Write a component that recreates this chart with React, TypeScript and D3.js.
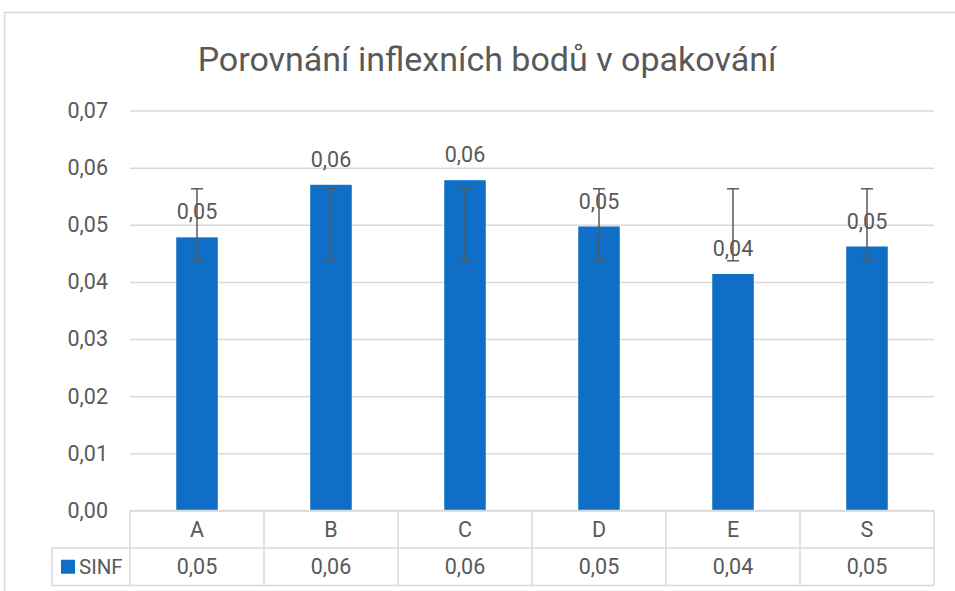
import React, { useEffect, useRef } from 'react';
import * as d3 from 'd3';

const categories = ['A', 'B', 'C', 'D', 'E', 'S'];
const seriesName = 'SINF';
const values = [0.0478, 0.057, 0.0578, 0.0497, 0.0414, 0.0462];
// error bars (same range for every bar)
const errorLow = [0.0437, 0.0437, 0.0437, 0.0437, 0.0437, 0.0437];
const errorHigh = [0.0563, 0.0563, 0.0563, 0.0563, 0.0563, 0.0563];
const yTicks = [0, 0.01, 0.02, 0.03, 0.04, 0.05, 0.06, 0.07];
const title = 'Porovnání inflexních bodů v opakování';

const W = 955;
const H = 591;
const FONT = 'Roboto, "Open Sans", sans-serif';
const TEXT = '#595959';
const GRID = '#d9d9d9';
const BAR = '#0F6FC6';
const FS = 21.5;

const cz = d3.formatLocale({
  decimal: ',',
  thousands: ' ',
  grouping: [3],
  currency: ['', ' Kč'],
});
const fmt = cz.format('.2f');

const App = () => {
  const svgRef = useRef<SVGSVGElement | null>(null);

  useEffect(() => {
    const plot = { left: 130, right: 934, top: 110.5, bottom: 510.5 };
    const rowH = 37.5;

    const xCol = d3.scaleBand<string>().domain(categories).range([plot.left, plot.right]);
    const xBar = d3
      .scaleBand<string>()
      .domain(categories)
      .range([plot.left, plot.right])
      .paddingInner(0.69)
      .paddingOuter(0.345);
    const yScale = d3.scaleLinear().domain([0, 0.07]).range([plot.bottom, plot.top]);

    const svgEl = d3.select(svgRef.current);
    svgEl.selectAll('*').remove();
    const svg = svgEl.append('g');

    // chart frame
    svg
      .append('rect')
      .attr('x', 4.5)
      .attr('y', 12.5)
      .attr('width', W + 10)
      .attr('height', H + 10)
      .attr('fill', '#fff')
      .attr('stroke', GRID)
      .attr('stroke-width', 1.5);

    // title
    svg
      .append('text')
      .attr('x', 487)
      .attr('y', 71)
      .attr('text-anchor', 'middle')
      .attr('font-family', FONT)
      .attr('font-size', 34)
      .attr('fill', TEXT)
      .text(title);

    // Y grid lines with labels
    const yAxis = d3
      .axisLeft(yScale)
      .tickValues(yTicks)
      .tickSize(-(plot.right - plot.left))
      .tickPadding(22)
      .tickFormat((d) => fmt(d as number));
    const yAxisGroup = svg
      .append('g')
      .attr('transform', `translate(${plot.left},0)`)
      .call(yAxis);
    yAxisGroup.select('.domain').remove();
    yAxisGroup.selectAll('line').attr('stroke', GRID).attr('stroke-width', 1.5);
    yAxisGroup
      .selectAll('text')
      .attr('fill', TEXT)
      .attr('font-family', FONT)
      .attr('font-size', FS);

    // bars
    svg
      .selectAll('.bar')
      .data(categories)
      .enter()
      .append('rect')
      .attr('x', (d) => xBar(d)!)
      .attr('y', (d, i) => yScale(values[i]))
      .attr('width', xBar.bandwidth())
      .attr('height', (d, i) => yScale(0) - yScale(values[i]))
      .attr('fill', BAR);

    // error bars
    const cx = (d: string) => xBar(d)! + xBar.bandwidth() / 2;
    const err = svg.append('g').attr('stroke', '#595959').attr('stroke-width', 1.5);
    err
      .selectAll('.ev')
      .data(categories)
      .enter()
      .append('line')
      .attr('x1', cx)
      .attr('x2', cx)
      .attr('y1', (d, i) => yScale(errorLow[i]))
      .attr('y2', (d, i) => yScale(errorHigh[i]));
    [errorLow, errorHigh].forEach((arr) => {
      err
        .selectAll(null)
        .data(categories)
        .enter()
        .append('line')
        .attr('x1', (d) => cx(d) - 6)
        .attr('x2', (d) => cx(d) + 6)
        .attr('y1', (d, i) => yScale(arr[i]))
        .attr('y2', (d, i) => yScale(arr[i]));
    });

    // data labels
    svg
      .selectAll('.lbl')
      .data(categories)
      .enter()
      .append('text')
      .attr('x', cx)
      .attr('y', (d, i) => yScale(values[i]) - 18)
      .attr('text-anchor', 'middle')
      .attr('font-family', FONT)
      .attr('font-size', FS)
      .attr('fill', TEXT)
      .text((d, i) => fmt(values[i]));

    // data table
    const table = svg.append('g').attr('stroke', GRID).attr('stroke-width', 1.5);
    const legendLeft = 52;
    table
      .append('line')
      .attr('x1', plot.left)
      .attr('x2', plot.right)
      .attr('y1', plot.bottom)
      .attr('y2', plot.bottom);
    table
      .append('line')
      .attr('x1', legendLeft)
      .attr('x2', plot.right)
      .attr('y1', plot.bottom + rowH)
      .attr('y2', plot.bottom + rowH);
    table
      .append('line')
      .attr('x1', legendLeft)
      .attr('x2', plot.right)
      .attr('y1', plot.bottom + 2 * rowH)
      .attr('y2', plot.bottom + 2 * rowH);
    table
      .append('line')
      .attr('x1', legendLeft)
      .attr('x2', legendLeft)
      .attr('y1', plot.bottom + rowH)
      .attr('y2', plot.bottom + 2 * rowH);
    table
      .selectAll('.vl')
      .data([...categories.map((c) => xCol(c)!), plot.right])
      .enter()
      .append('line')
      .attr('x1', (d) => d)
      .attr('x2', (d) => d)
      .attr('y1', plot.bottom)
      .attr('y2', plot.bottom + 2 * rowH);

    const colMid = (d: string) => xCol(d)! + xCol.bandwidth() / 2;
    svg
      .selectAll('.cat')
      .data(categories)
      .enter()
      .append('text')
      .attr('x', colMid)
      .attr('y', plot.bottom + rowH / 2)
      .attr('dy', '0.35em')
      .attr('text-anchor', 'middle')
      .attr('font-family', FONT)
      .attr('font-size', FS)
      .attr('fill', TEXT)
      .text((d) => d);
    svg
      .selectAll('.val')
      .data(categories)
      .enter()
      .append('text')
      .attr('x', colMid)
      .attr('y', plot.bottom + rowH * 1.5)
      .attr('dy', '0.35em')
      .attr('text-anchor', 'middle')
      .attr('font-family', FONT)
      .attr('font-size', FS)
      .attr('fill', TEXT)
      .text((d, i) => fmt(values[i]));

    // legend key in the table
    svg
      .append('rect')
      .attr('x', 61)
      .attr('y', plot.bottom + rowH * 1.5 - 7)
      .attr('width', 14)
      .attr('height', 14)
      .attr('fill', BAR);
    svg
      .append('text')
      .attr('x', 79)
      .attr('y', plot.bottom + rowH * 1.5)
      .attr('dy', '0.35em')
      .attr('font-family', FONT)
      .attr('font-size', FS - 1)
      .attr('fill', TEXT)
      .text(seriesName);
  }, []);

  return (
    <svg
      ref={svgRef}
      width={W}
      height={H}
      style={{ position: 'absolute', left: 0, top: 0, background: '#fff' }}
    />
  );
};

export default App;
